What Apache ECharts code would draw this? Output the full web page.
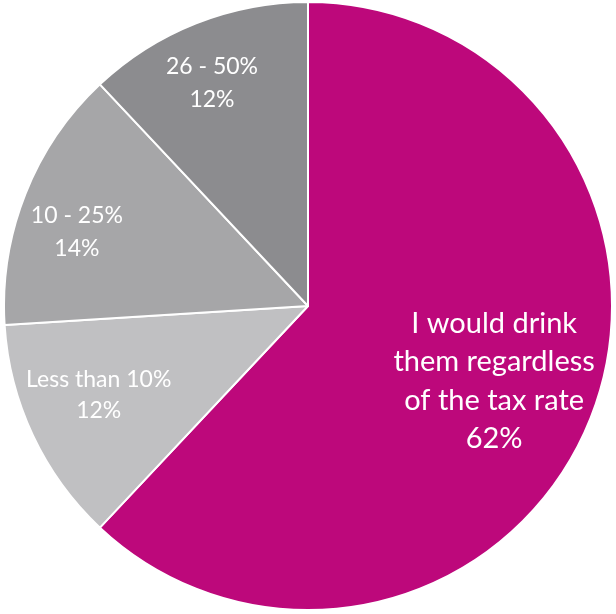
<!DOCTYPE html>
<html>
<head>
<meta charset="utf-8">
<script src="https://cdn.jsdelivr.net/npm/echarts@6/dist/echarts.min.js"></script>
<style>
  html, body { margin: 0; padding: 0; background: #fff; }
  #chart { width: 616px; height: 614px; }
</style>
</head>
<body>
<div id="chart"></div>
<script>
// data
var categories = ['I would drink\nthem regardless\nof the tax rate', 'Less than 10%', '10 - 25%', '26 - 50%'];
var values = [62, 12, 14, 12];

// styles per slice
var colors = ['#BD087B', '#C0C0C2', '#A6A6A8', '#8C8C8F'];
var fontSizes = [29, 23, 23, 23];
var lineHeights = [38.5, 31, 33, 33];
var labelOffsets = [[42, 18], [-69, 23], [-87, -17], [-39, -79]];

var chart = echarts.init(document.getElementById('chart'));

var data = values.map(function (v, i) {
    return {
        name: categories[i],
        value: v,
        itemStyle: { color: colors[i] },
        label: {
            fontSize: fontSizes[i],
            lineHeight: lineHeights[i],
            offset: labelOffsets[i]
        }
    };
});

chart.setOption({
    animation: false,
    series: [{
        type: 'pie',
        center: [308, 306],
        radius: [0, 304],
        startAngle: 90,
        clockwise: true,
        itemStyle: {
            borderColor: '#fff',
            borderWidth: 2
        },
        label: {
            show: true,
            position: 'inside',
            color: '#fff',
            fontFamily: 'Lato',
            formatter: '{b}\n{c}%'
        },
        labelLine: { show: false },
        emphasis: { disabled: true },
        data: data
    }]
});
</script>
</body>
</html>
